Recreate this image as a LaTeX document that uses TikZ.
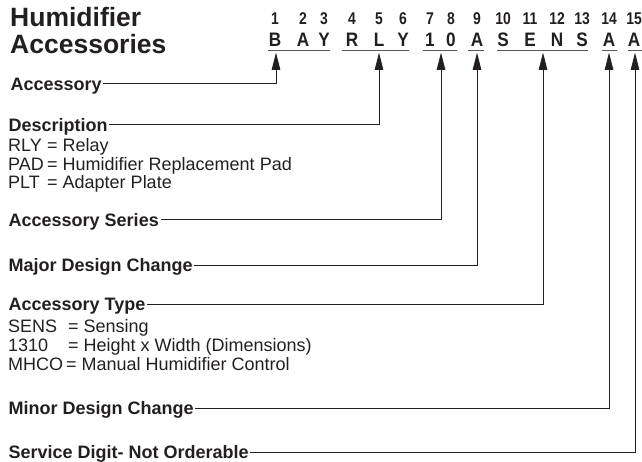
\documentclass[tikz,border=0pt]{standalone}
\usepackage{fontspec}
\usepackage{graphicx}
\setmainfont{Liberation Sans}
\usetikzlibrary{arrows.meta}
\definecolor{ink}{HTML}{231F20}
\newcommand{\cnd}[1]{\scalebox{0.88}[1]{#1}}
\begin{document}
\begin{tikzpicture}[x=1pt,y=-1pt,
  every node/.style={inner sep=0pt, text=ink},
  head/.style={anchor=base west, font=\fontsize{26.5}{27}\bfseries},
  dig/.style={anchor=base, font=\fontsize{17}{17}\bfseries},
  let/.style={anchor=base, font=\fontsize{19.5}{20}\bfseries},
  lab/.style={anchor=base west, font=\fontsize{18}{18}\bfseries, text height=13pt, text depth=0pt, inner xsep=1.5pt},
  desc/.style={anchor=base west, font=\fontsize{18}{18}\selectfont},
  uline/.style={draw=ink!75, line width=1pt},
  conn/.style={draw=ink, line width=1pt, -{Triangle[length=17.5pt,width=8.5pt]}},
]
\useasboundingbox (0,0) rectangle (642,462);

% heading
\node[head] (h1) at (10,27) {Humidifier};
\node[head] (h2) at (10,54) {Accessories};

% digits and letters
\foreach \i/\x/\c in {1/275/B,2/303/A,3/324/Y,4/352/R,5/379/L,6/403/Y,7/430/1,8/451/0,9/477/A,10/503/S,11/530/E,12/557/N,13/582/S,14/609/A,15/634/A}{
  \node[dig] (d\i) at (\x,25) {\scalebox{0.82}[1]{\i}};
  \node[let] (l\i) at (\x,46.7) {\cnd{\c}};
}

% underlines
\draw[uline] (268,51) -- (330,51);
\draw[uline] (342,51) -- (409,51);
\draw[uline] (423,51) -- (457,51);
\draw[uline] (468,51) -- (484,51);
\draw[uline] (497,51) -- (588,51);
\draw[uline] (602,51) -- (617,51);
\draw[uline] (628,51) -- (642,51);

% arrow targets
\coordinate (a1) at (276,52.5);
\coordinate (a2) at (379,52.5);
\coordinate (a3) at (441,52.5);
\coordinate (a4) at (477,52.5);
\coordinate (a5) at (543,52.5);
\coordinate (a6) at (609,52.5);
\coordinate (a7) at (635,52.5);

% labels
\node[lab] (accessory) at (9,90.5) {Accessory};
\node[lab] (description) at (7,131.5) {Description};
\node[desc] (rly) at (8,152) {\makebox[39pt][l]{RLY}=\ Relay};
\node[desc] (pad) at (8,170.5) {\makebox[39pt][l]{PAD}=\ Humidifier Replacement Pad};
\node[desc] (plt) at (8,189) {\makebox[39pt][l]{PLT}=\ Adapter Plate};
\node[lab] (series) at (7,226.5) {Accessory Series};
\node[lab] (major) at (7,271.5) {Major Design Change\hspace{5pt}};
\node[lab] (type) at (7,310.5) {Accessory Type};
\node[desc] (sens) at (8,332) {\makebox[60pt][l]{SENS}=\ Sensing};
\node[desc] (dim) at (8,351) {\makebox[60pt][l]{1310}=\ Height x Width (Dimensions)};
\node[desc] (mhco) at (8,370.5) {\makebox[58pt][l]{MHCO}=\ Manual Humidifier Control};
\node[lab] (minor) at (7,414.5) {Minor Design Change};
\node[lab] (service) at (7,458.5) {Service Digit- Not Orderable};

% connectors
\draw[conn] (accessory.east) -| (a1);
\draw[conn] (description.east) -| (a2);
\draw[conn] (series.east) -| (a3);
\draw[conn] (major.east) -| (a4);
\draw[conn] (type.east) -| (a5);
\draw[conn] (minor.east) -| (a6);
\draw[conn] (service.east) -| (a7);
\end{tikzpicture}
\end{document}
